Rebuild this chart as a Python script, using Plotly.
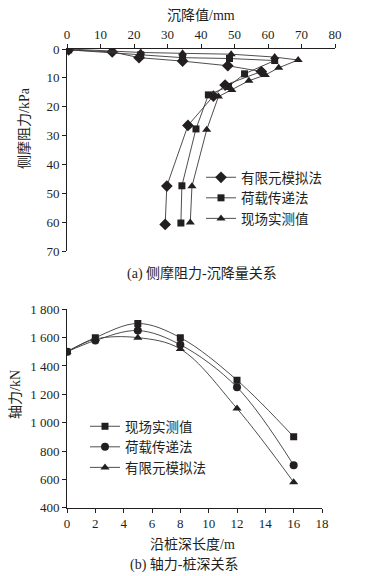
import plotly.graph_objects as go

# ---------- (a) side friction vs settlement ----------
fem_a_x = [0.5, 13.5, 21.5, 34.5, 48.0, 58.0, 47.2, 43.7, 36.1, 29.8, 29.3]
fem_a_y = [0.3, 1.0, 3.0, 4.2, 5.8, 7.8, 12.5, 16.3, 26.5, 47.5, 60.8]
ltm_a_x = [0.5, 22.0, 34.5, 48.5, 62.0, 53.0, 48.2, 42.2, 38.5, 34.3, 34.0]
ltm_a_y = [0.3, 2.0, 3.0, 3.3, 4.0, 8.6, 13.0, 15.9, 27.7, 47.4, 60.3]
fld_a_x = [0.5, 22.0, 34.5, 49.0, 62.0, 69.0, 63.2, 59.2, 54.3, 49.2, 45.2, 41.7, 37.3, 36.8]
fld_a_y = [0.0, 1.2, 1.5, 1.8, 2.8, 3.8, 6.5, 9.0, 11.0, 14.2, 16.5, 28.0, 47.6, 60.1]

# ---------- (b) axial force vs depth ----------
depth_b = [0, 2, 5, 8, 12, 16]
fld_b = [1500, 1600, 1700, 1600, 1300, 900]
ltm_b = [1500, 1580, 1650, 1550, 1250, 700]
fem_b = [1500, 1590, 1600, 1520, 1100, 580]

y_b_ticks = [400, 600, 800, 1000, 1200, 1400, 1600, 1800]
y_b_text = ["400", "600", "800", "1 000", "1 200", "1 400", "1 600", "1 800"]

FONT = "Liberation Serif, Noto Sans CJK SC"
CJK = "Noto Sans CJK SC"
INK = "#231f20"
LINE = dict(color="#3a3a3a", width=0.9)

fig = go.Figure()

def add(x, y, name, symbol, size, xa, ya, legend, shape="linear"):
    fig.add_trace(go.Scatter(
        x=x, y=y, name=name, mode="lines+markers",
        line=dict(color=LINE["color"], width=LINE["width"], shape=shape),
        marker=dict(symbol=symbol, size=size, color=INK),
        xaxis=xa, yaxis=ya, legend=legend))

add(fem_a_x, fem_a_y, "有限元模拟法", "diamond", 9, "x", "y", "legend")
add(ltm_a_x, ltm_a_y, "荷载传递法", "square", 7, "x", "y", "legend")
add(fld_a_x, fld_a_y, "现场实测值", "triangle-up", 8, "x", "y", "legend")

add(depth_b, fld_b, "现场实测值", "square", 7, "x2", "y2", "legend2", "spline")
add(depth_b, ltm_b, "荷载传递法", "circle", 8, "x2", "y2", "legend2", "spline")
add(depth_b, fem_b, "有限元模拟法", "triangle-up", 8, "x2", "y2", "legend2", "spline")

# page body has an 8px margin: the figure is drawn at (8, 8)
OFF = 8
W, H = 369 - OFF, 576 - OFF
def px(v): return (v - OFF) / W
def py(v): return 1 - (v - OFF) / H

axis_common = dict(showline=True, linecolor=INK, linewidth=1, ticks="outside",
                   ticklen=4, tickcolor=INK, showgrid=False, zeroline=False,
                   automargin=False,
                   tickfont=dict(family=FONT, size=13, color=INK))

fig.update_layout(
    width=W, height=H, margin=dict(l=0, r=0, t=0, b=0, autoexpand=False),
    paper_bgcolor="white", plot_bgcolor="white",
    font=dict(family=FONT, size=13, color=INK),
    xaxis=dict(domain=[px(67), px(335)], range=[0, 80], dtick=10, side="top",
               anchor="y", **axis_common),
    yaxis=dict(domain=[py(251), py(49)], range=[70, 0], dtick=10,
               anchor="x", **axis_common),
    xaxis2=dict(domain=[px(67), px(322)], range=[0, 18], dtick=2,
                anchor="y2", **axis_common),
    yaxis2=dict(domain=[py(507.7), py(309.3)], range=[400, 1800],
                tickvals=y_b_ticks, ticktext=y_b_text, anchor="x2", **axis_common),
    legend=dict(x=px(201), y=py(162), xanchor="left", yanchor="top",
                bgcolor="rgba(0,0,0,0)", font=dict(size=13.5, family=CJK),
                tracegroupgap=0, itemwidth=30),
    legend2=dict(x=px(85), y=py(411), xanchor="left", yanchor="top",
                 bgcolor="rgba(0,0,0,0)", font=dict(size=13.5, family=CJK),
                 tracegroupgap=0, itemwidth=30),
    showlegend=True,
)

ann = [
    dict(text="沉降值/mm", x=px(201), y=py(15)),
    dict(text="侧摩阻力/kPa", x=px(24), y=py(128), textangle=-90),
    dict(text="(a) 侧摩阻力-沉降量关系", x=px(202), y=py(273)),
    dict(text="轴力/kN", x=px(15), y=py(395), textangle=-90),
    dict(text="沿桩深长度/m", x=px(192), y=py(544)),
    dict(text="(b) 轴力-桩深关系", x=px(184), y=py(564)),
]
for a in ann:
    fig.add_annotation(xref="paper", yref="paper", showarrow=False,
                       xanchor="center", yanchor="middle",
                       font=dict(family=FONT, size=14, color=INK), **a)

fig.write_html("out.html")
